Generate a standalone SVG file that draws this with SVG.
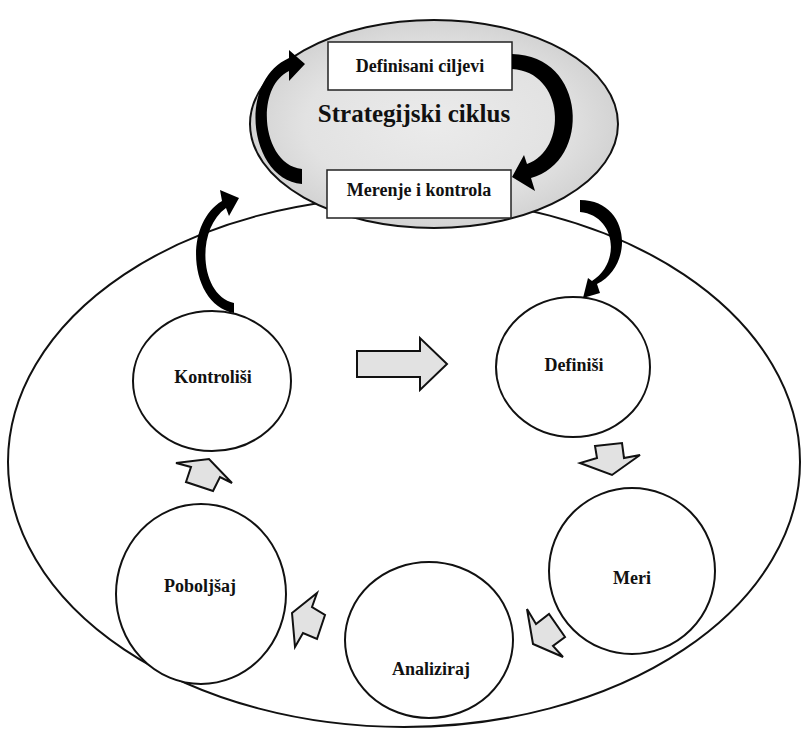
<svg xmlns="http://www.w3.org/2000/svg" width="803" height="729" viewBox="0 0 803 729">
<style>
.ln{fill:none;stroke:#111;stroke-width:2}
.nd{fill:#fff;stroke:#111;stroke-width:2}
.bx{fill:#fff;stroke:#222;stroke-width:1.5}
.ga{fill:#e2e2e2;stroke:#111;stroke-width:2;stroke-linejoin:miter}
.ca{fill:#000;stroke:none}
.t{font-family:"Liberation Serif","Times New Roman",serif;font-weight:bold;fill:#111;text-anchor:middle}
.s17{font-size:18px}
.s24{font-size:25px}
</style>
<defs>
<radialGradient id="gg" cx="0.5" cy="0.5" r="0.5">
<stop offset="0" stop-color="#ebebeb"/>
<stop offset="0.7" stop-color="#e2e2e2"/>
<stop offset="1" stop-color="#d3d3d3"/>
</radialGradient>
</defs>
<rect width="803" height="729" fill="#fff"/>
<g id="outer">
<ellipse cx="404" cy="462" rx="396" ry="265" class="ln"/>
</g>
<g id="strategic">
<ellipse cx="434" cy="124" rx="184" ry="104" fill="url(#gg)" stroke="#111" stroke-width="2"/>
<text x="414" y="122" class="t s24">Strategijski ciklus</text>
</g>
<g id="definisani">
<rect x="328" y="42" width="184" height="48" class="bx"/>
<text x="420" y="72" class="t s17">Definisani ciljevi</text>
</g>
<g id="merenje">
<rect x="327" y="170" width="184" height="48" class="bx"/>
<text x="419" y="196" class="t s17">Merenje i kontrola</text>
</g>
<g id="kontrolisi">
<ellipse cx="212" cy="381" rx="79" ry="70" class="nd"/>
<text x="213" y="383" class="t s17">Kontroliši</text>
</g>
<g id="definisi">
<ellipse cx="573" cy="367" rx="77" ry="70" class="nd"/>
<text x="574" y="371" class="t s17">Definiši</text>
</g>
<g id="meri">
<ellipse cx="632" cy="571" rx="83" ry="83" class="nd"/>
<text x="632" y="584" class="t s17">Meri</text>
</g>
<g id="analiziraj">
<ellipse cx="429" cy="640" rx="84" ry="78" class="nd"/>
<text x="431" y="675" class="t s17">Analiziraj</text>
</g>
<g id="poboljsaj">
<ellipse cx="201" cy="594" rx="85" ry="90" class="nd"/>
<text x="200" y="592" class="t s17">Poboljšaj</text>
</g>
<g id="connectors">
<path class="ca" d="M302,184 C250,180 236,82 289,58 L289,50 L305,64 L289,81 L289,71 C254,88 262,165 302,169 Z"/>
<path class="ca" d="M512,54 C587,55 592,162 531,178 L535,191 L512,177 L524,155 L527,164 C568,150 565,72 512,69 Z"/>
<path class="ca" d="M234,313 C190,305 182,225 222,201 L220,190 L239,198 L229,216 L226,208 C195,230 200,296 234,303 Z"/>
<path class="ca" d="M580,200 C630,200 635,265 597,284 L600,293 L583,298 L588,278 L592,281 C622,262 615,215 580,212 Z"/>
<polygon class="ga" points="357,351 420,351 420,338 447,364 420,390 420,377 357,377"/>
<polygon class="ga" points="595,446 622,443 624,458 640,455 612,475 580,463 597,458"/>
<polygon class="ga" points="176,463 209,459 232,483 220,477 213,491 186,482 191,467"/>
<polygon class="ga" points="292,613 317,593 312,607 325,615 317,639 303,633 295,647"/>
<polygon class="ga" points="527,609 536,624 549,614 565,637 553,646 563,657 533,644"/>
</g>
</svg>
